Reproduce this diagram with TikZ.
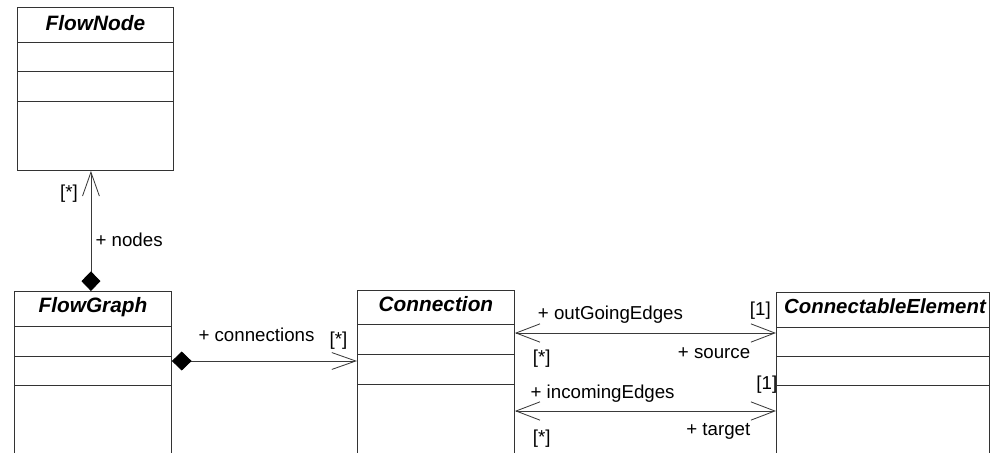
\documentclass[tikz,border=0pt]{standalone}
\usepackage{fontspec}
\setmainfont{Liberation Sans}
\usetikzlibrary{arrows.meta, positioning, calc}
\definecolor{clrborder}{HTML}{333333}
\definecolor{clrline}{HTML}{3A3A3A}
\definecolor{clrtext}{HTML}{000000}

\begin{document}
\begin{tikzpicture}[
    x=0.025cm, y=-0.025cm,
    every node/.style={font=\fontsize{13.3}{15}\selectfont, text=clrtext},
    classbox/.style={draw=clrborder, anchor=north west, inner sep=0, line width=0.6pt},
    classname/.style={anchor=base, inner sep=0, font=\fontsize{14.8}{17}\selectfont\bfseries\itshape},
    compline/.style={draw=clrborder, line width=0.6pt},
    assoc/.style={color=clrline, line width=0.6pt, {Straight Barb[length=17pt, width=13pt]}-{Straight Barb[length=17pt, width=13pt]}},
    compose/.style={color=clrline, line width=0.6pt, {Diamond[length=14pt, width=13.5pt, fill=black, color=black]}-{Straight Barb[length=17pt, width=12pt]}},
    label/.style={inner sep=0, font=\fontsize{13.3}{15}\selectfont},
]
\useasboundingbox (0,0) rectangle (999,453);
\clip (0,0) rectangle (999,453);
% class boxes
\node[classbox, minimum width=3.9cm, minimum height=4.075cm] (n_flownode) at (17,7) {};
\node[classname] (t_flownode) at ($(n_flownode.north)+(0,24)$) {FlowNode};
\foreach \dy in {35,64,94}
    \draw[compline] ($(n_flownode.north west)+(0,\dy)$) -- ($(n_flownode.north east)+(0,\dy)$);

\node[classbox, minimum width=3.925cm, minimum height=5cm] (n_flowgraph) at (14,291) {};
\node[classname] (t_flowgraph) at ($(n_flowgraph.north)+(0,21)$) {FlowGraph};
\foreach \dy in {35,65,94}
    \draw[compline] ($(n_flowgraph.north west)+(0,\dy)$) -- ($(n_flowgraph.north east)+(0,\dy)$);

\node[classbox, minimum width=3.925cm, minimum height=5cm] (n_connection) at (357,290) {};
\node[classname] (t_connection) at ($(n_connection.north)+(0,21)$) {Connection};
\foreach \dy in {34,64,94}
    \draw[compline] ($(n_connection.north west)+(0,\dy)$) -- ($(n_connection.north east)+(0,\dy)$);

\node[classbox, minimum width=5.325cm, minimum height=5cm] (n_connectable) at (776,292) {};
\node[classname, font=\fontsize{14.5}{17}\selectfont\bfseries\itshape] (t_connectable) at ($(n_connectable.north)+(2,21)$) {ConnectableElement};
\foreach \dy in {35,64,93}
    \draw[compline] ($(n_connectable.north west)+(0,\dy)$) -- ($(n_connectable.north east)+(0,\dy)$);

% associations
\draw[compose] ($(n_flowgraph.north)+(-2,0)$) coordinate (c_nodes) -- (c_nodes |- n_flownode.south)
    node[label, pos=0.81, left=9pt] {[*]}
    node[label, pos=0.43, right=3pt] {+ nodes};
\draw[compose] ($(n_flowgraph.north east)+(0,70)$) coordinate (c_conn) -- (c_conn -| n_connection.west)
    node[label, pos=0.457, yshift=0.65cm] {+ connections}
    node[label, pos=0.90, yshift=0.5cm] {[*]};
\draw[assoc] ($(n_connection.north east)+(0,43)$) coordinate (c_out) -- (c_out -| n_connectable.west)
    node[label, pos=0.366, yshift=0.45cm] {+ outGoingEdges}
    node[label, pos=0.94, yshift=0.55cm] {[1]}
    node[label, pos=0.103, yshift=-0.63cm] {[*]}
    node[label, pos=0.763, yshift=-0.5cm] {+ source};
\draw[assoc] ($(n_connection.north east)+(0,121)$) coordinate (c_in) -- (c_in -| n_connectable.west)
    node[label, pos=0.336, yshift=0.43cm] {+ incomingEdges}
    node[label, pos=0.965, yshift=0.65cm] {[1]}
    node[label, pos=0.103, yshift=-0.68cm] {[*]}
    node[label, pos=0.779, yshift=-0.52cm] {+ target};
\end{tikzpicture}
\end{document}
